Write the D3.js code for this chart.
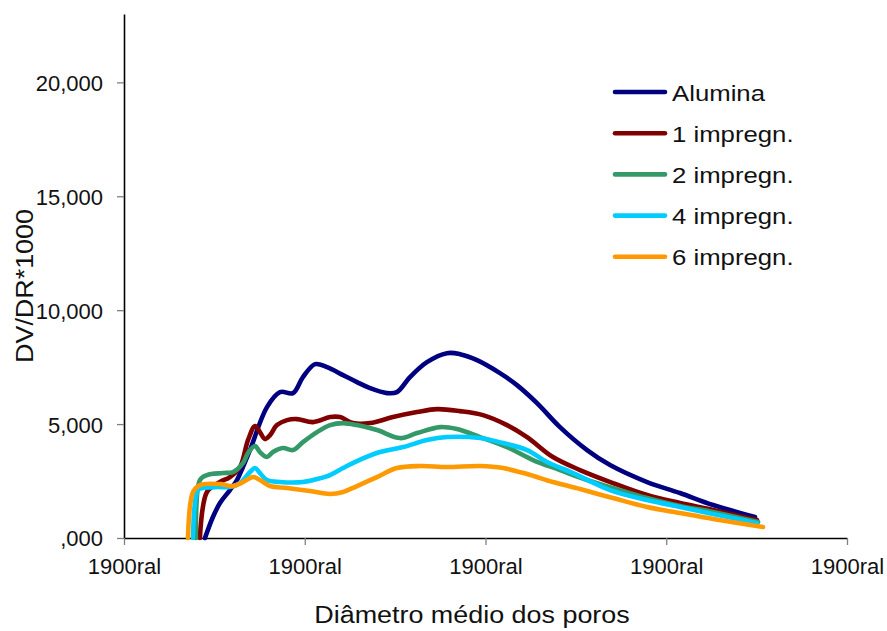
<!DOCTYPE html>
<html>
<head>
<meta charset="utf-8">
<script src="https://cdn.jsdelivr.net/npm/d3@7"></script>
<style>
  html, body { margin: 0; padding: 0; background: #fff; }
  svg { display: block; font-family: "Liberation Sans", Arial, sans-serif; }
</style>
</head>
<body>
<svg id="chart" width="887" height="631"></svg>
<script>
// ---- data ----
const seriesNames = ["Alumina", "1 impregn.", "2 impregn.", "4 impregn.", "6 impregn."];
const seriesColors = ["#000080", "#800000", "#339966", "#00CCFF", "#FF9900"];

const xTickValues = [0, 1, 2, 3, 4];
const xTickLabels = ["1900ral", "1900ral", "1900ral", "1900ral", "1900ral"];
const yTickValues = [0, 5000, 10000, 15000, 20000];
const yTickLabels = [",000", "5,000", "10,000", "15,000", "20,000"];

const alumina = [
  [0.448, 0], [0.492, 921], [0.531, 1535], [0.586, 2105], [0.625, 2544], [0.658, 3114],
  [0.697, 3860], [0.791, 5746], [0.863, 6404], [0.935, 6360], [0.990, 7061], [1.057, 7632],
  [1.123, 7500], [1.212, 7149], [1.289, 6842], [1.361, 6579], [1.455, 6360], [1.510, 6404],
  [1.582, 7061], [1.676, 7719], [1.787, 8114], [1.859, 8070], [1.953, 7807], [2.080, 7237],
  [2.174, 6711], [2.285, 5921], [2.412, 4868], [2.562, 3860], [2.689, 3202], [2.894, 2456],
  [3.076, 1974], [3.259, 1447], [3.491, 921]
];
const impregn1 = [
  [0.420, 0], [0.459, 2018], [0.531, 2456], [0.586, 2675], [0.642, 3114], [0.686, 4298],
  [0.725, 4912], [0.752, 4649], [0.780, 4342], [0.808, 4518], [0.846, 4956], [0.902, 5175],
  [0.957, 5219], [1.046, 5088], [1.140, 5307], [1.195, 5307], [1.267, 5044], [1.361, 5044],
  [1.488, 5307], [1.621, 5526], [1.732, 5658], [1.859, 5570], [1.986, 5395], [2.119, 4956],
  [2.230, 4430], [2.373, 3553], [2.523, 2982], [2.705, 2412], [2.894, 1886], [3.076, 1535],
  [3.259, 1228], [3.502, 789]
];
const impregn2 = [
  [0.398, 0], [0.420, 2544], [0.459, 2763], [0.548, 2851], [0.603, 2895], [0.658, 3289],
  [0.686, 3728], [0.725, 4035], [0.752, 3772], [0.791, 3553], [0.824, 3772], [0.880, 3947],
  [0.935, 3860], [0.990, 4211], [1.068, 4649], [1.140, 4956], [1.212, 5044], [1.289, 4956],
  [1.400, 4737], [1.527, 4386], [1.621, 4605], [1.748, 4868], [1.842, 4781], [1.970, 4430],
  [2.119, 3991], [2.263, 3421], [2.412, 2982], [2.562, 2544], [2.705, 2193], [2.894, 1754],
  [3.076, 1404], [3.259, 1140], [3.508, 702]
];
const impregn4 = [
  [0.382, 0], [0.409, 2105], [0.437, 2193], [0.515, 2237], [0.586, 2237], [0.642, 2412],
  [0.697, 2895], [0.725, 3070], [0.752, 2851], [0.791, 2544], [0.863, 2456], [0.990, 2456],
  [1.068, 2588], [1.140, 2763], [1.212, 3070], [1.289, 3377], [1.416, 3772], [1.544, 3991],
  [1.676, 4298], [1.787, 4430], [1.970, 4386], [2.097, 4167], [2.230, 3860], [2.340, 3333],
  [2.484, 2851], [2.689, 2105], [2.894, 1667], [3.076, 1360], [3.259, 1053], [3.502, 658]
];
const impregn6 = [
  [0.354, 0], [0.382, 2018], [0.420, 2325], [0.531, 2368], [0.603, 2281], [0.658, 2456],
  [0.714, 2675], [0.752, 2544], [0.808, 2281], [0.902, 2193], [1.029, 2061], [1.140, 1930],
  [1.212, 2018], [1.289, 2281], [1.400, 2675], [1.510, 3070], [1.638, 3158], [1.787, 3114],
  [1.970, 3158], [2.097, 3070], [2.230, 2807], [2.373, 2456], [2.523, 2149], [2.705, 1754],
  [2.894, 1360], [3.076, 1096], [3.259, 833], [3.535, 482]
];
const seriesData = [alumina, impregn1, impregn2, impregn4, impregn6];

// ---- layout ----
const svg = d3.select("#chart");
const plot = { left: 124, right: 847, top: 14, bottom: 538 };

const x = d3.scaleLinear().domain([0, 4]).range([plot.left, plot.right]);
const y = d3.scaleLinear().domain([0, 23000]).range([plot.bottom, plot.top]);

// axes
const xAxis = d3.axisBottom(x).tickValues(xTickValues)
  .tickFormat((d, i) => xTickLabels[i]).tickSize(7).tickSizeOuter(0);
const yAxis = d3.axisLeft(y).tickValues(yTickValues)
  .tickFormat((d, i) => yTickLabels[i]).tickSize(7).tickSizeOuter(0);

const gx = svg.append("g").attr("transform", `translate(0,${plot.bottom})`).call(xAxis);
const gy = svg.append("g").attr("transform", `translate(${plot.left},0)`).call(yAxis);

[gx, gy].forEach(g => {
  g.select(".domain").attr("stroke", "#000").attr("stroke-width", 1.6);
  g.selectAll(".tick line").attr("stroke", "#808080").attr("stroke-width", 1.3);
  g.selectAll(".tick text").attr("fill", "#111").attr("font-size", 22)
    .attr("font-family", "'Liberation Sans', Arial, sans-serif");
});
gx.selectAll(".tick text").attr("dy", "0").attr("y", 36);
gy.selectAll(".tick text").attr("x", -21).attr("dy", "0.36em");
gx.raise();

// lines
const line = d3.line()
  .x(d => x(d[0]))
  .y(d => y(d[1]))
  .curve(d3.curveCatmullRom.alpha(0.5));

const linesG = svg.append("g");
seriesData.forEach((data, i) => {
  linesG.append("path")
    .datum(data)
    .attr("d", line)
    .attr("fill", "none")
    .attr("stroke", seriesColors[i])
    .attr("stroke-width", 4.6)
    .attr("stroke-linejoin", "round")
    .attr("stroke-linecap", "round");
});

// axis titles
svg.append("text")
  .attr("transform", `translate(472,623) scale(1.17,1)`)
  .attr("text-anchor", "middle")
  .attr("font-size", 23)
  .attr("fill", "#111")
  .text("Diâmetro médio dos poros");

svg.append("text")
  .attr("transform", `translate(33,286) rotate(-90) scale(1.17,1)`)
  .attr("text-anchor", "middle")
  .attr("font-size", 23)
  .attr("fill", "#111")
  .text("DV/DR*1000");

// legend
const legend = svg.append("g");
seriesNames.forEach((name, i) => {
  const ly = 92 + i * 41.2;
  legend.append("line")
    .attr("x1", 615).attr("x2", 665)
    .attr("y1", ly).attr("y2", ly)
    .attr("stroke", seriesColors[i])
    .attr("stroke-width", 4.6)
    .attr("stroke-linecap", "round");
  legend.append("text")
    .attr("transform", `translate(672,${ly + 8.5}) scale(1.17,1)`)
    .attr("font-size", 22)
    .attr("fill", "#111")
    .text(name);
});
</script>
</body>
</html>
